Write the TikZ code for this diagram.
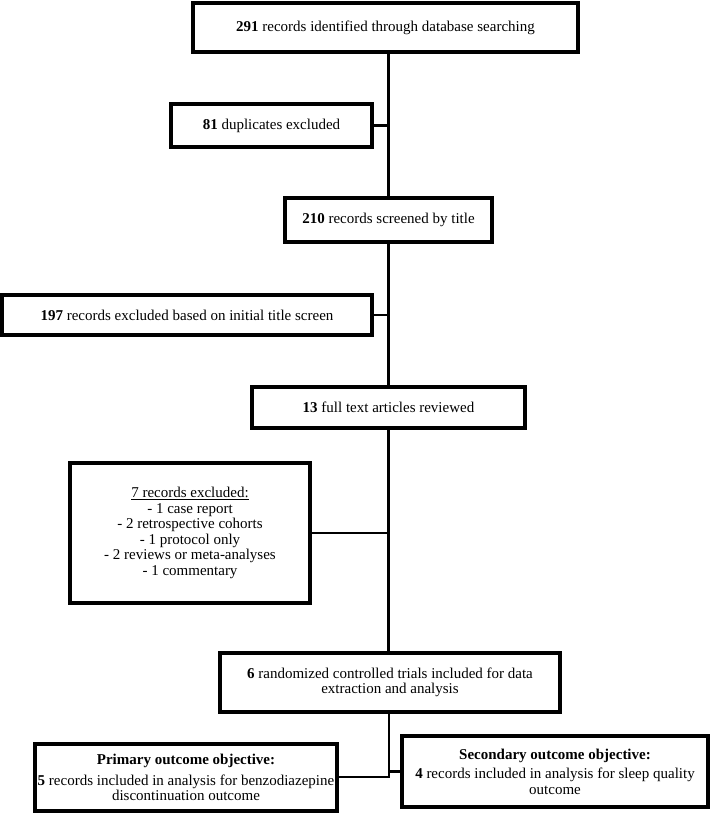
\documentclass[tikz,border=0pt]{standalone}
\usepackage{fontspec}
\setmainfont{Liberation Serif}
\begin{document}
\begin{tikzpicture}[x=1pt,y=-1pt,
  box/.style={draw, line width=3.1pt, inner sep=0pt, align=center,
    font=\fontsize{15}{15.6}\selectfont},
  link/.style={line width=2.6pt}]
\useasboundingbox (0,0) rectangle (710,814);
\node[box, minimum width=385pt, minimum height=49pt] (b1) at (385.5,27.5)
  {\textbf{291} records identified through database searching};
\node[box, minimum width=201pt, minimum height=43pt] (b2) at (271.5,125.5)
  {\textbf{81} duplicates excluded};
\node[box, minimum width=207pt, minimum height=44pt] (b3) at (388.5,220)
  {\textbf{210} records screened by title};
\node[box, minimum width=370pt, minimum height=40pt] (b4) at (187,315)
  {\textbf{197} records excluded based on initial title screen};
\node[box, minimum width=273pt, minimum height=41pt] (b5) at (388.5,407.5)
  {\textbf{13} full text articles reviewed};
\node[box, minimum width=240pt, minimum height=140pt] (b6) at (190,533)
  {\underline{7 records excluded:}\\- 1 case report\\- 2 retrospective cohorts\\- 1 protocol only\\- 2 reviews or meta-analyses\\- 1 commentary};
\node[box, minimum width=340pt, minimum height=59pt] (b7) at (390,682.5)
  {\textbf{6} randomized controlled trials included for data\\extraction and analysis};
\node[box, minimum width=302pt, minimum height=67pt] (pri) at (186,777.5)
  {\textbf{Primary outcome objective:}\\[5pt]\textbf{5} records included in analysis for benzodiazepine\\discontinuation outcome};
\node[box, minimum width=306pt, minimum height=71pt] (sec) at (555,771.5)
  {\textbf{Secondary outcome objective:}\\[4pt]\textbf{4} records included in analysis for sleep quality\\outcome};
\coordinate (j) at (389,777);
\draw[link] (b3.north |- b1.south) -- (b3.north);
\draw[link] (b2.east) -- (b2.east -| b3.north);
\draw[link] (b3.south) -- (b5.north);
\draw[link] (b4.east) -- (b4.east -| b3.south);
\draw[link] (b5.south) -- (b5.south |- b7.north);
\draw[link] (b6.east) -- (b6.east -| b5.south);
\draw[link] (b7.south -| j) -- (j) -- (pri.east |- j);
\draw[link] (sec.west) -- (sec.west -| j);
\end{tikzpicture}
\end{document}
